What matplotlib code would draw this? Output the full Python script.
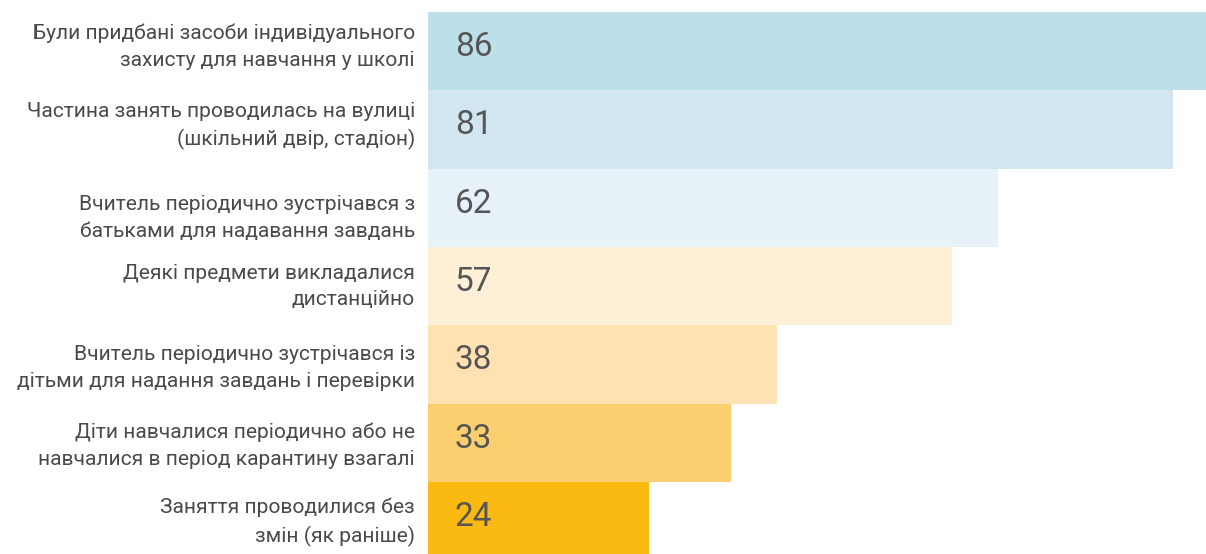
import matplotlib
matplotlib.use("Agg")
import matplotlib.pyplot as plt
from matplotlib.transforms import offset_copy

plt.rcParams['font.family'] = ['Roboto', 'DejaVu Sans']

categories = [
    "Були придбані засоби індивідуального\nзахисту для навчання у школі",
    "Частина занять проводилась на вулиці\n(шкільний двір, стадіон)",
    "Вчитель періодично зустрічався з\nбатьками для надавання завдань",
    "Деякі предмети викладалися\nдистанційно",
    "Вчитель періодично зустрічався із\nдітьми для надання завдань і перевірки",
    "Діти навчалися періодично або не\nнавчалися в період карантину взагалі",
    "Заняття проводилися без\nзмін (як раніше)",
]
values = [86, 81, 62, 57, 38, 33, 24]
colors = ["#BDDFEA", "#D1E6F1", "#E6F1F8", "#FEF0D7", "#FEE2B1", "#FBCE70", "#FBBA12"]

# vertical nudges (pixels, positive = up) of the category labels
label_nudge = [4.5, 3.5, -10, -0.5, -4, -3.3, -1]

W, H = 1206, 554
fig = plt.figure(figsize=(W / 100, H / 100), dpi=100)
ax = fig.add_axes([428 / W, 0, (W - 428) / W, (H - 12) / H])

y = list(range(len(values)))
ax.barh(y, values, height=1.0, color=colors, align='center')
ax.set_ylim(-0.5 + 542 / 78.3, -0.5)
ax.set_xlim(0, 84.6)
ax.axis('off')

val_tr = offset_copy(ax.transData, fig=fig, x=27, y=4, units='dots')
for i, (c, v) in enumerate(zip(categories, values)):
    lab_tr = offset_copy(ax.transData, fig=fig, x=-13, y=label_nudge[i], units='dots')
    ax.text(0, i, c, transform=lab_tr, ha='right', va='center', fontsize=15.1,
            color='#4a4a4a', linespacing=1.52, clip_on=False)
    ax.text(0, i, str(v), transform=val_tr, ha='left', va='center', fontsize=24,
            color='#555555', clip_on=False)

fig.savefig("out.png", dpi=100, facecolor='white')
